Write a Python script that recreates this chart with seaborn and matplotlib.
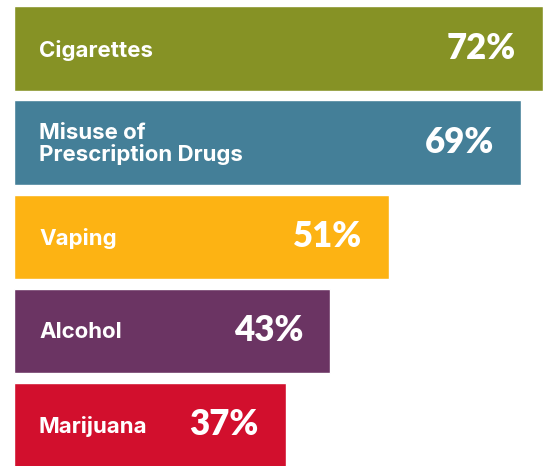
import matplotlib
matplotlib.use("Agg")
import matplotlib.pyplot as plt
import seaborn as sns
import pandas as pd

categories = ["Cigarettes", "Misuse of\nPrescription Drugs", "Vaping", "Alcohol", "Marijuana"]
values = [72, 69, 51, 43, 37]
colors = ["#869225", "#447F98", "#FDB313", "#6B3463", "#D20F2D"]

df = pd.DataFrame({"category": categories, "value": values})

sns.set_theme(style="white")
plt.rcParams["font.family"] = ["Lato", "DejaVu Sans"]

fig = plt.figure(figsize=(5.43, 4.66), dpi=100)
ax = fig.add_axes([0, 0, 1, 1])

sns.barplot(data=df, x="value", y="category", hue="category",
            palette=colors, legend=False, orient="h", width=0.894,
            saturation=1, ax=ax)

ax.set_xlim(-1.905, 72)
ax.set_ylim(4.441, -0.516)
ax.axis("off")

for i, (cat, val) in enumerate(zip(categories, values)):
    ax.text(3.4, i + 0.02, cat, color="white", fontsize=16, fontweight="bold",
            family=["Inter", "DejaVu Sans"], ha="left", va="center", linespacing=1.05)
    ax.text(val - 3.67, i, f"{val}%", color="white", fontsize=25, fontweight="heavy",
            ha="right", va="center")

fig.savefig("out.png", dpi=100)
